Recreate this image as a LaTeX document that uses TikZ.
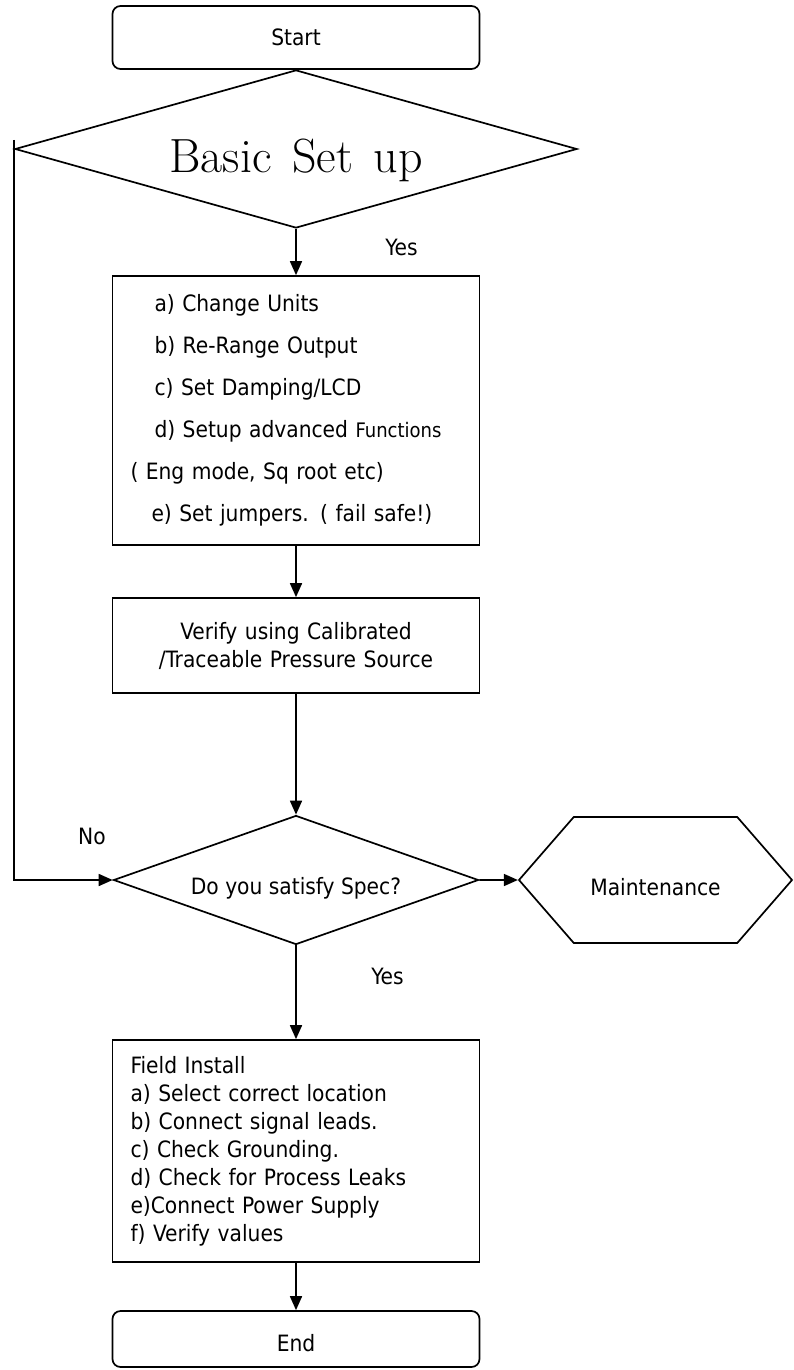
\documentclass[tikz,border=0pt]{standalone}
\usepackage{fontspec}
\newfontfamily\chartfont{DejaVu Sans Condensed}
\usepackage{tikz}
\usetikzlibrary{arrows.meta}
\usetikzlibrary{shapes.geometric,shapes.symbols}
\tikzstyle{flow}=[-{Triangle[length=14pt,width=12pt]}, line width=1.7pt]
\tikzstyle{terminal}=[rectangle, draw, line width=1.7pt, rounded corners=8pt,
		minimum width=367pt, inner sep=0pt,
		font=\chartfont\fontsize{22.5}{28}\selectfont]
\tikzstyle{process}=[rectangle, draw, line width=1.7pt, text width=331pt,
		inner xsep=18pt, inner ysep=0pt,
		font=\chartfont\fontsize{22.5}{28}\selectfont]
\tikzstyle{decision}=[diamond, draw, line width=1.7pt, inner sep=0pt,
		font=\chartfont\fontsize{22.5}{28}\selectfont]
\tikzstyle{hexa}=[signal, signal to=west and east, signal pointer angle=98,
		draw, line width=1.7pt, inner sep=0pt,
		font=\chartfont\fontsize{22.5}{28}\selectfont]
\tikzstyle{tag}=[inner sep=0pt, font=\chartfont\fontsize{22.5}{28}\selectfont]

\begin{document}
\begin{tikzpicture}[x=1pt,y=-1pt]
    \useasboundingbox (0,0) rectangle (793,1370);

    \node (Start) at (296,37.5) [terminal, minimum height=63pt] {Start};

    \node (Basic) at (296,149) [decision, aspect=3.56, minimum width=562pt,
            minimum height=158pt, font=\fontsize{48}{56}\selectfont,
            text height=46pt, text depth=0pt]
        {Basic\hspace{6pt} Set\hspace{6pt} up};

    \node (Setup) at (296,410.5) [process, align=left, minimum height=269pt,
            font=\chartfont\fontsize{22.5}{42}\selectfont]{
        \hspace*{24pt}a) Change Units\\
        \hspace*{24pt}b) Re-Range Output\\
        \hspace*{24pt}c) Set Damping/LCD\\
        \hspace*{24pt}d) Setup advanced {\fontsize{20}{42}\selectfont Functions}\\
        ( Eng mode, Sq root etc)\\
        \hspace*{21pt}e) Set jumpers. ( fail safe!)};

    \node (Verify) at (296,645.5) [process, align=center, minimum height=95pt]
        {Verify using Calibrated\\/Traceable Pressure Source};

    \node (Check) at (296,880) [decision, aspect=2.83, minimum width=365pt,
            minimum height=129pt, text height=28pt, text depth=0pt]
        {Do you satisfy Spec?};

    \node (Maint) at (655.5,880) [hexa, minimum width=273pt,
            minimum height=126pt, text height=30pt, text depth=0pt]
        {Maintenance};

    \node (Install) at (296,1151) [process, align=left, minimum height=222pt]{
        Field Install\\
        a) Select correct location\\
        b) Connect signal leads.\\
        c) Check Grounding.\\
        d) Check for Process Leaks\\
        e)Connect Power Supply\\
        f) Verify values};

    \node (End) at (296,1339) [terminal, minimum height=56pt,
            text height=25pt, text depth=0pt] {End};

    \node (yes1) at (401.5,247.5) [tag] {Yes};
    \node (yes2) at (387.5,976.5) [tag] {Yes};
    \node (no) at (92,836.7) [tag] {No};

    \draw[flow] (Basic) -- (Setup);
    \draw[flow] (Setup) -- (Verify);
    \draw[flow] (Verify) -- (Check);
    \draw[flow] (Check) -- (Maint);
    \draw[flow] (Check) -- (Install);
    \draw[flow] (Install) -- (End);
    \draw[flow] ([yshift=9pt]Basic.west) |- (Check.west);

\end{tikzpicture}
\end{document}
